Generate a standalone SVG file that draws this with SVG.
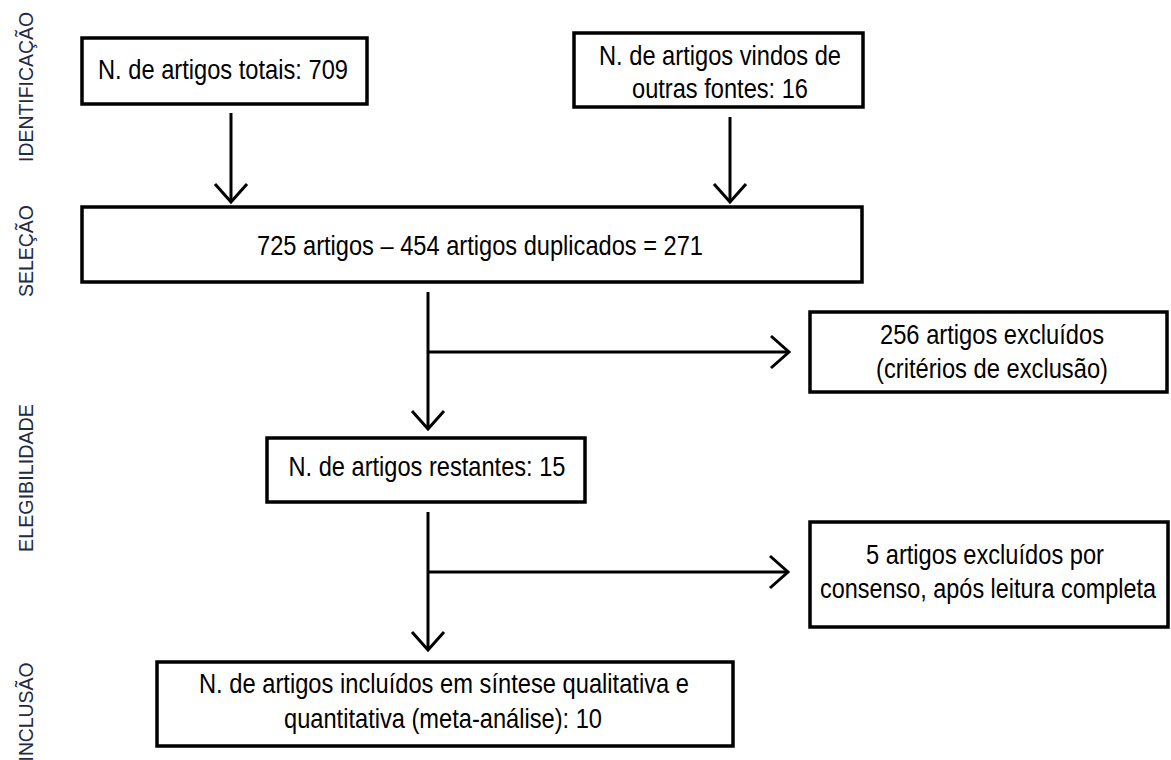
<svg xmlns="http://www.w3.org/2000/svg" width="1171" height="760" viewBox="0 0 1171 760">
<style>
.box{fill:#fff;stroke:#000;stroke-width:3.5}
.t{font-family:"Liberation Sans",Arial,sans-serif;font-size:27.5px;fill:#000;text-anchor:middle}
.lab{font-family:"Liberation Sans",Arial,sans-serif;font-size:21px;fill:#1f2a44;text-anchor:middle}
.c{fill:none;stroke:#000;stroke-width:3}
</style>
<defs>
<marker id="chev" markerUnits="userSpaceOnUse" viewBox="-22 -20 26 40" markerWidth="26" markerHeight="40" refX="0" refY="0" orient="auto">
<path d="M-18,-16 L0,0 L-18,16" fill="none" stroke="#000" stroke-width="3"/>
</marker>
</defs>
<rect width="1171" height="760" fill="#fff"/>
<g id="labels">
<text class="lab" transform="translate(33,87) rotate(-90)" textLength="150" lengthAdjust="spacingAndGlyphs">IDENTIFICAÇÃO</text>
<text class="lab" transform="translate(33,251) rotate(-90)" textLength="92" lengthAdjust="spacingAndGlyphs">SELEÇÃO</text>
<text class="lab" transform="translate(33,478) rotate(-90)" textLength="148" lengthAdjust="spacingAndGlyphs">ELEGIBILIDADE</text>
<text class="lab" transform="translate(33,712) rotate(-90)" textLength="99" lengthAdjust="spacingAndGlyphs">INCLUSÃO</text>
</g>
<g id="connectors">
<line class="c" x1="231" y1="113" x2="231" y2="202" marker-end="url(#chev)"/>
<line class="c" x1="730" y1="117" x2="730" y2="202" marker-end="url(#chev)"/>
<line class="c" x1="428" y1="292" x2="428" y2="429" marker-end="url(#chev)"/>
<line class="c" x1="428" y1="352" x2="789" y2="352" marker-end="url(#chev)"/>
<line class="c" x1="428" y1="512" x2="428" y2="650" marker-end="url(#chev)"/>
<line class="c" x1="428" y1="572" x2="788" y2="572" marker-end="url(#chev)"/>
</g>
<g id="n1">
<rect class="box" x="82" y="38" width="285" height="66"/>
<text class="t" x="223" y="79" textLength="250" lengthAdjust="spacingAndGlyphs">N. de artigos totais: 709</text>
</g>
<g id="n2">
<rect class="box" x="574" y="33" width="289" height="74"/>
<text class="t" x="720" y="65" textLength="242" lengthAdjust="spacingAndGlyphs">N. de artigos vindos de</text>
<text class="t" x="720" y="98" textLength="176" lengthAdjust="spacingAndGlyphs">outras fontes: 16</text>
</g>
<g id="n3">
<rect class="box" x="82" y="207" width="780" height="75"/>
<text class="t" x="480" y="255" textLength="446" lengthAdjust="spacingAndGlyphs">725 artigos – 454 artigos duplicados = 271</text>
</g>
<g id="n4">
<rect class="box" x="810" y="312" width="357" height="80"/>
<text class="t" x="992" y="344" textLength="224" lengthAdjust="spacingAndGlyphs">256 artigos excluídos</text>
<text class="t" x="992" y="378" textLength="232" lengthAdjust="spacingAndGlyphs">(critérios de exclusão)</text>
</g>
<g id="n5">
<rect class="box" x="267" y="438" width="318" height="64"/>
<text class="t" x="427" y="476" textLength="277" lengthAdjust="spacingAndGlyphs">N. de artigos restantes: 15</text>
</g>
<g id="n6">
<rect class="box" x="810" y="522" width="358" height="105"/>
<text class="t" x="985" y="564" textLength="238" lengthAdjust="spacingAndGlyphs">5 artigos excluídos por</text>
<text class="t" transform="translate(988,598) scale(0.853,1)" x="0" y="0" textLength="394" lengthAdjust="spacingAndGlyphs">consenso, após leitura completa</text>
</g>
<g id="n7">
<rect class="box" x="157" y="662" width="576" height="84"/>
<text class="t" x="444" y="693" textLength="490" lengthAdjust="spacingAndGlyphs">N. de artigos incluídos em síntese qualitativa e</text>
<text class="t" x="443" y="728" textLength="318" lengthAdjust="spacingAndGlyphs">quantitativa (meta-análise): 10</text>
</g>
</svg>
